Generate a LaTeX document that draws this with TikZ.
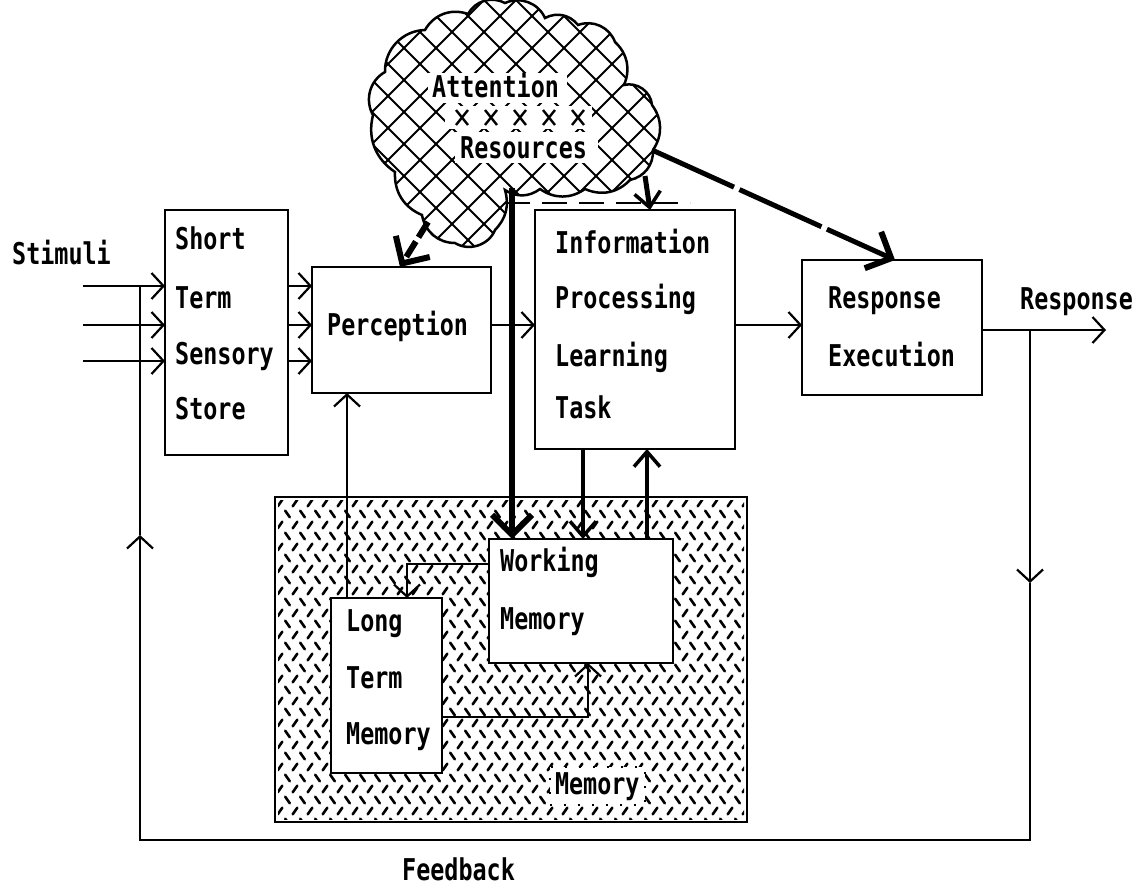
\documentclass[tikz,border=0pt]{standalone}
\usepackage{fontspec}
\newfontfamily\pixfont{DejaVu Sans Mono}[FakeStretch=0.78]
\usetikzlibrary{arrows.meta,calc}
\begin{document}
\begin{tikzpicture}[x=1pt,y=-1pt,
  box/.style={draw, line width=2.5pt, fill=white, inner sep=0pt, outer sep=0pt},
  lbl/.style={anchor=base west, inner sep=0pt, font=\pixfont\bfseries\fontsize{30}{30}\selectfont},
  ln/.style={line width=2.2pt},
  arr/.style={line width=2.2pt, -{Straight Barb[length=12pt,width=26pt,line width=2.2pt]}},
  midarr/.style={line width=3.5pt, -{Straight Barb[length=15pt,width=26pt,line width=3.5pt]}},
  bigarr/.style={line width=6pt, -{Straight Barb[length=20pt,width=40pt,line width=6pt]}},
  mk/.style={line width=2.6pt, line cap=round},
  hatch/.style={line width=2pt}]
\useasboundingbox (0,0) rectangle (1147,888);

% ---------- cloud ----------
\begin{scope}
\clip (373,115) to[bend left=45] (385,72) to[bend left=45] (425,30) to[bend left=40] (468,14) to[bend left=45] (505,3) to[bend left=45] (545,18) to[bend left=40] (578,25) to[bend left=45] (615,42) to[bend left=35] (624,85) to[bend left=50] (652,105) to[bend left=35] (653,150) to[bend left=40] (630,180) to[bend left=35] (585,189) to[bend left=35] (540,189) to[bend left=35] (505,190) to[bend left=30] (495,230) to[bend left=50] (455,243) to[bend left=40] (422,215) to[bend left=35] (395,172) to[bend left=35] cycle;
\foreach \c in {100,132,...,940}{
  \draw[hatch] (\c,0) -- ++(300,300);
  \draw[hatch] (\c,0) -- ++(-300,300);
}
\fill[white] (428,73) rectangle (567,103);
\fill[white] (445,106) rectangle (592,129);
\fill[white] (455,132) rectangle (598,163);
\foreach \xx in {462,491,520,549,578}{
  \draw[line width=2.4pt] (\xx-6,110) -- (\xx+6,125) (\xx+6,110) -- (\xx-6,125);
}
\end{scope}
\draw[line width=2.5pt] (373,115) to[bend left=45] (385,72) to[bend left=45] (425,30) to[bend left=40] (468,14) to[bend left=45] (505,3) to[bend left=45] (545,18) to[bend left=40] (578,25) to[bend left=45] (615,42) to[bend left=35] (624,85) to[bend left=50] (652,105) to[bend left=35] (653,150) to[bend left=40] (630,180) to[bend left=35] (585,189) to[bend left=35] (540,189) to[bend left=35] (505,190) to[bend left=30] (495,230) to[bend left=50] (455,243) to[bend left=40] (422,215) to[bend left=35] (395,172) to[bend left=35] cycle;
\node[lbl] (attn) at (432,98) {Attention};
\node[lbl] (res) at (460,158) {Resources};

% ---------- boxes ----------
\node[box, minimum width=123pt, minimum height=245pt] (stss) at (226.5,332.5) {};
\node[box, minimum width=179pt, minimum height=126pt] (perc) at (401.5,330) {};
\node[box, minimum width=200pt, minimum height=239pt] (info) at (635,329.5) {};
\node[box, minimum width=180pt, minimum height=135pt] (resp) at (892,327.5) {};
\node[box, minimum width=472pt, minimum height=325pt] (mem) at (511,659.5) {};

\begin{scope}
\clip (278,500) rectangle (744,819);
\foreach \r in {0,...,29}{
  \pgfmathtruncatemacro\odd{mod(\r,2)}
  \pgfmathsetmacro\yy{503+11*\r}
  \foreach \k in {0,...,31}{
    \pgfmathsetmacro\xx{280+15*\k+7.5*\odd}
    \ifnum\odd=0
      \draw[mk] (\xx-2.3,\yy+3.3) -- (\xx+2.3,\yy-3.3);
    \else
      \draw[mk] (\xx-2.3,\yy-3.3) -- (\xx+2.3,\yy+3.3);
    \fi
  }
}
\end{scope}

\node[box, minimum width=184pt, minimum height=124pt] (wm) at (581,601) {};
\node[box, minimum width=111pt, minimum height=175pt] (ltm) at (386.5,685.5) {};
\node[lbl, fill=white, draw, line width=2pt, dash pattern=on 2pt off 12pt, inner sep=5pt] (memlbl) at (549,794) {Memory};

% ---------- texts ----------
\node[lbl] (tstim) at (12,264) {Stimuli};
\node[lbl] (t1) at (175,249) {Short};
\node[lbl] (t2) at (175,308) {Term};
\node[lbl] (t3) at (175,364) {Sensory};
\node[lbl] (t4) at (175,419) {Store};
\node[lbl] (tp) at (327,335) {Perception};
\node[lbl] (i1) at (555,253) {Information};
\node[lbl] (i2) at (555,308) {Processing};
\node[lbl] (i3) at (555,366) {Learning};
\node[lbl] (i4) at (555,418) {Task};
\node[lbl] (r1) at (828,308) {Response};
\node[lbl] (r2) at (828,366) {Execution};
\node[lbl] (rout) at (1020,309) {Response};
\node[lbl] (w1) at (500,571) {Working};
\node[lbl] (w2) at (500,629) {Memory};
\node[lbl] (l1) at (346,631) {Long};
\node[lbl] (l2) at (346,688) {Term};
\node[lbl] (l3) at (346,744) {Memory};
\node[lbl] (tfb) at (402,880) {Feedback};

% ---------- coordinates ----------
\coordinate (s1) at (83,286);
\coordinate (s2) at (83,325);
\coordinate (s3) at (83,361);
\coordinate (ya) at (0,325);
\coordinate (yr) at (0,330);
\coordinate (split) at (1030,330);
\coordinate (outend) at (1106,330);
\coordinate (fbr) at (1030,583);
\coordinate (fbbr) at (1030,840);
\coordinate (fbbl) at (140,840);
\coordinate (fbl) at (140,535);
\coordinate (fbtop) at (140,286);
\coordinate (xl) at (347,0);
\coordinate (xw) at (407,564);
\coordinate (xlw) at (588,717);
\coordinate (xd) at (583,0);
\coordinate (xu) at (647,0);
\coordinate (cA) at (428,222);
\coordinate (cB) at (512,188);
\coordinate (cC) at (645,176);
\coordinate (cD) at (652,150);

% ---------- connectors ----------
\foreach \s in {s1,s2,s3}{
  \draw[arr] (\s) -- (\s -| stss.west);
  \draw[arr] (\s -| stss.east) -- (\s -| perc.west);
}
\draw[arr] (perc.east |- ya) -- (info.west |- ya);
\draw[arr] (info.east |- ya) -- (resp.west |- ya);
\draw[arr] (resp.east |- yr) -- (outend);
\draw[arr] (split) -- (fbr);
\draw[arr] (fbr) -- (fbbr) -- (fbbl) -- (fbl);
\draw[ln] (fbl) -- (fbtop);

\draw[arr] (ltm.north -| xl) -- (perc.south -| xl);
\draw[arr] (wm.west |- xw) -- (xw) -- (ltm.north -| xw);
\draw[arr] (ltm.east |- xlw) -- (xlw) -- (wm.south -| xlw);
\draw[midarr] (info.south -| xd) -- (wm.north -| xd);
\draw[midarr] (wm.north -| xu) -- (info.south -| xu);

\draw[bigarr] (cB) -- (wm.north -| cB);
\draw[bigarr, dash pattern=on 18pt off 5pt] (cA) -- (perc.north -| 400,0);
\draw[midarr, line width=5pt] (cC) -- (info.north -| 650,0);
\draw[bigarr, line width=5pt, dash pattern=on 90pt off 6pt] (cD) -- (resp.north -| 895,0);
\draw[line width=1.5pt, dash pattern=on 25pt off 12pt] (505,203) -- (690,203);
\end{tikzpicture}
\end{document}
